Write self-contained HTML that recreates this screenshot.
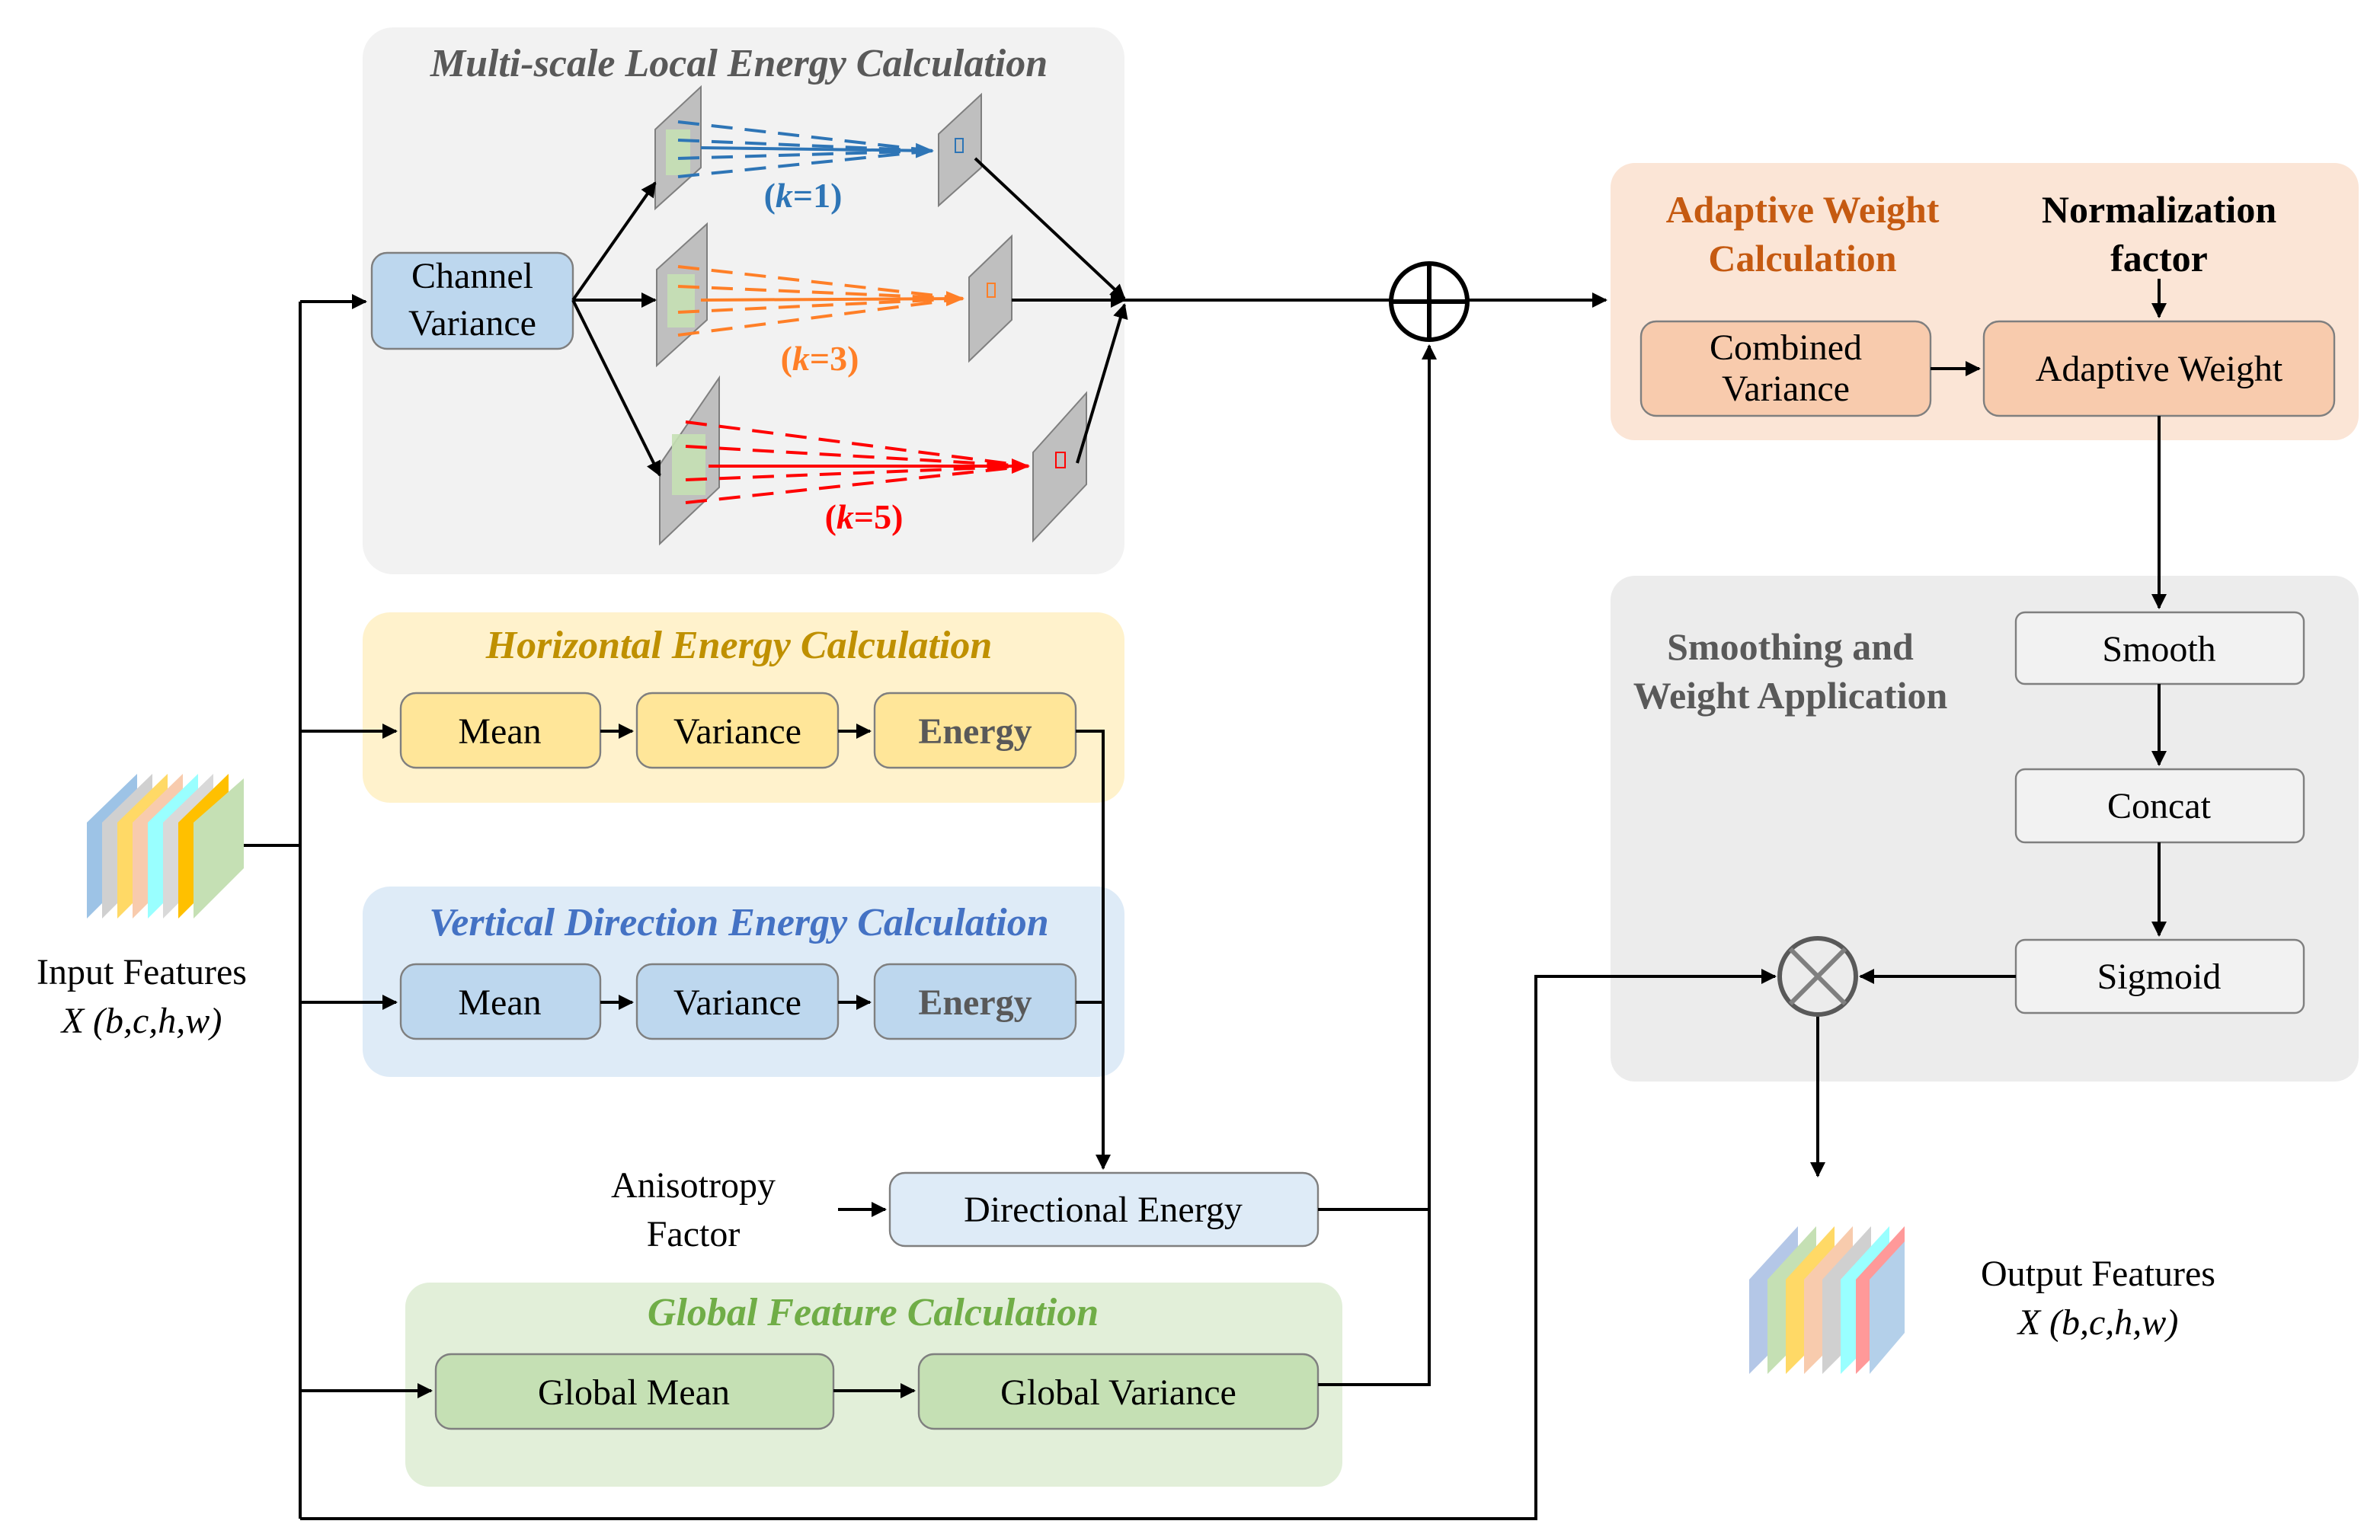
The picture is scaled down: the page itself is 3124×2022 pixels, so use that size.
<!DOCTYPE html>
<html><head><meta charset="utf-8"><style>
html,body{margin:0;padding:0;background:#fff}
svg{display:block}
text{font-family:"Liberation Serif",serif}
</style></head><body>
<svg width="3124" height="2022" viewBox="0 0 1562 1011" xmlns="http://www.w3.org/2000/svg">
<defs>
<marker id="a" markerWidth="10" markerHeight="10" refX="9" refY="5" orient="auto" markerUnits="userSpaceOnUse"><path d="M0,0 L10,5 L0,10 z" fill="#000"/></marker>
<marker id="ab" markerWidth="12" markerHeight="10" refX="11" refY="5" orient="auto" markerUnits="userSpaceOnUse"><path d="M0,0 L12,5 L0,10 z" fill="#2e75b6"/></marker>
<marker id="ao" markerWidth="12" markerHeight="10" refX="11" refY="5" orient="auto" markerUnits="userSpaceOnUse"><path d="M0,0 L12,5 L0,10 z" fill="#ff7f27"/></marker>
<marker id="ar" markerWidth="12" markerHeight="10" refX="11" refY="5" orient="auto" markerUnits="userSpaceOnUse"><path d="M0,0 L12,5 L0,10 z" fill="#ff0000"/></marker>
</defs>

<rect x="238" y="18" width="500" height="359" rx="20" fill="#f2f2f2"/>
<rect x="238" y="402" width="500" height="125" rx="18" fill="#fff2cc"/>
<rect x="238" y="582" width="500" height="125" rx="18" fill="#deebf7"/>
<rect x="266" y="842" width="615" height="134" rx="16" fill="#e2efd9"/>
<rect x="1057" y="107" width="491" height="182" rx="16" fill="#fbe5d6"/>
<rect x="1057" y="378" width="491" height="332" rx="16" fill="#ececec"/>

<g font-style="italic" font-weight="bold" font-size="26" text-anchor="middle">
<text x="485" y="50" fill="#595959">Multi-scale Local Energy Calculation</text>
<text x="485" y="432" fill="#bf9000">Horizontal Energy Calculation</text>
<text x="485" y="614" fill="#4472c4">Vertical Direction Energy Calculation</text>
<text x="573" y="870" fill="#70ad47">Global Feature Calculation</text>
</g>
<g font-weight="bold" font-size="25" text-anchor="middle">
<text x="1183" y="146" fill="#c55a11">Adaptive Weight</text>
<text x="1183" y="178" fill="#c55a11">Calculation</text>
<text x="1417" y="146" fill="#000">Normalization</text>
<text x="1417" y="178" fill="#000">factor</text>
<text x="1175" y="433" fill="#595959">Smoothing and</text>
<text x="1175" y="465" fill="#595959">Weight Application</text>
</g>

<g stroke="#7f7f7f" stroke-width="1.2">
<rect x="244" y="166" width="132" height="63" rx="10" fill="#bdd7ee"/>
<rect x="263" y="455" width="131" height="49" rx="10" fill="#ffe699"/>
<rect x="418" y="455" width="132" height="49" rx="10" fill="#ffe699"/>
<rect x="574" y="455" width="132" height="49" rx="10" fill="#ffe699"/>
<rect x="263" y="633" width="131" height="49" rx="10" fill="#bdd7ee"/>
<rect x="418" y="633" width="132" height="49" rx="10" fill="#bdd7ee"/>
<rect x="574" y="633" width="132" height="49" rx="10" fill="#bdd7ee"/>
<rect x="584" y="770" width="281" height="48" rx="10" fill="#deebf7"/>
<rect x="286" y="889" width="261" height="49" rx="10" fill="#c5e0b4"/>
<rect x="603" y="889" width="262" height="49" rx="10" fill="#c5e0b4"/>
<rect x="1077" y="211" width="190" height="62" rx="10" fill="#f8cbad"/>
<rect x="1302" y="211" width="230" height="62" rx="10" fill="#f8cbad"/>
<rect x="1323" y="402" width="189" height="47" rx="6" fill="#f2f2f2"/>
<rect x="1323" y="505" width="189" height="48" rx="6" fill="#f2f2f2"/>
<rect x="1323" y="617" width="189" height="48" rx="6" fill="#f2f2f2"/>
</g>
<g font-size="24" text-anchor="middle" fill="#000">
<text x="310" y="189">Channel</text><text x="310" y="220">Variance</text>
<text x="328" y="488">Mean</text><text x="484" y="488">Variance</text>
<text x="640" y="488" font-weight="bold" fill="#595959">Energy</text>
<text x="328" y="666">Mean</text><text x="484" y="666">Variance</text>
<text x="640" y="666" font-weight="bold" fill="#595959">Energy</text>
<text x="724" y="802">Directional Energy</text>
<text x="416" y="922">Global Mean</text><text x="734" y="922">Global Variance</text>
<text x="1172" y="236">Combined</text><text x="1172" y="263">Variance</text>
<text x="1417" y="250">Adaptive Weight</text>
<text x="1417" y="434">Smooth</text><text x="1417" y="537">Concat</text><text x="1417" y="649">Sigmoid</text>
<text x="455" y="786">Anisotropy</text><text x="455" y="818">Factor</text>
<text x="93" y="646">Input Features</text>
<text x="93" y="678" font-style="italic">X (b,c,h,w)</text>
<text x="1377" y="844">Output Features</text>
<text x="1377" y="876" font-style="italic">X (b,c,h,w)</text>
</g>

<g fill="#bfbfbf" stroke="#7f7f7f" stroke-width="1">
<path d="M430,85 L460,57 L460,110 L430,137z"/>
<path d="M616,88 L644,62 L644,110 L616,135z"/>
<path d="M431,177 L464,147 L464,210 L431,240z"/>
<path d="M636,182 L664,155 L664,210 L636,237z"/>
<path d="M433,305 L472,248 L472,320 L433,357z"/>
<path d="M678,297 L713,258 L713,318 L678,355z"/>
</g>
<g fill="#c5e0b4" opacity="0.9">
<rect x="437" y="85" width="16" height="30"/><rect x="438" y="180" width="18" height="35"/><rect x="441" y="285" width="22" height="40"/>
</g>
<g stroke="#2e75b6" stroke-width="2" stroke-dasharray="14,8" fill="none">
<line x1="445" y1="80" x2="612" y2="99"/><line x1="445" y1="92" x2="612" y2="99"/><line x1="445" y1="104" x2="612" y2="99"/><line x1="445" y1="116" x2="612" y2="99"/>
<line x1="460" y1="97" x2="612" y2="99" stroke-dasharray="none" marker-end="url(#ab)"/>
</g>
<g stroke="#ff7f27" stroke-width="2" stroke-dasharray="14,8" fill="none">
<line x1="445" y1="175" x2="632" y2="196"/><line x1="445" y1="188" x2="632" y2="196"/><line x1="445" y1="205" x2="632" y2="196"/><line x1="445" y1="220" x2="632" y2="196"/>
<line x1="460" y1="197" x2="632" y2="196" stroke-dasharray="none" marker-end="url(#ao)"/>
</g>
<g stroke="#ff0000" stroke-width="2" stroke-dasharray="14,8" fill="none">
<line x1="450" y1="277" x2="675" y2="306"/><line x1="450" y1="293" x2="675" y2="306"/><line x1="450" y1="315" x2="675" y2="306"/><line x1="450" y1="330" x2="675" y2="306"/>
<line x1="465" y1="306" x2="675" y2="306" stroke-dasharray="none" marker-end="url(#ar)"/>
</g>
<rect x="627" y="91" width="5" height="9" fill="none" stroke="#2e75b6"/>
<rect x="648" y="186" width="5" height="9" fill="none" stroke="#ff7f27"/>
<rect x="693" y="297" width="6" height="10" fill="none" stroke="#ff0000"/>
<g font-weight="bold" font-size="23" text-anchor="middle">
<text x="527" y="136" fill="#2e75b6">(<tspan font-style="italic">k</tspan>=1)</text>
<text x="538" y="243" fill="#ff7f27">(<tspan font-style="italic">k</tspan>=3)</text>
<text x="567" y="347" fill="#ff0000">(<tspan font-style="italic">k</tspan>=5)</text>
</g>

<g>
<path d="M57,540 L90,508 L90,570 L57,603z" fill="#9dc3e6"/>
<path d="M67,540 L100,508 L100,570 L67,603z" fill="#d0d0d0"/>
<path d="M77,540 L110,508 L110,570 L77,603z" fill="#ffd966"/>
<path d="M87,540 L120,508 L120,570 L87,603z" fill="#f8cbad"/>
<path d="M97,540 L130,508 L130,570 L97,603z" fill="#99ffff"/>
<path d="M107,540 L140,508 L140,570 L107,603z" fill="#d9d9d9"/>
<path d="M117,540 L150,508 L150,570 L117,603z" fill="#ffc000"/>
<path d="M127,540 L160,511 L160,570 L127,603z" fill="#c5e0b4"/>
</g>
<g>
<path d="M1148,840 L1180,805 L1180,870 L1148,902z" fill="#b4c7e7"/>
<path d="M1160,840 L1192,805 L1192,870 L1160,902z" fill="#c5e0b4"/>
<path d="M1172,840 L1204,805 L1204,870 L1172,902z" fill="#ffd966"/>
<path d="M1184,840 L1216,805 L1216,870 L1184,902z" fill="#f8cbad"/>
<path d="M1196,840 L1228,805 L1228,870 L1196,902z" fill="#d0d0d0"/>
<path d="M1208,840 L1240,805 L1240,870 L1208,902z" fill="#99ffff"/>
<path d="M1218,840 L1250,805 L1250,870 L1218,902z" fill="#ff9999"/>
<path d="M1227,840 L1250,815 L1250,875 L1227,902z" fill="#b4d0ea"/>
</g>

<g stroke="#000" stroke-width="2" fill="none">
<polyline points="160,555 197,555"/>
<line x1="197" y1="198" x2="197" y2="997"/>
<line x1="197" y1="198" x2="240" y2="198" marker-end="url(#a)"/>
<line x1="197" y1="480" x2="260" y2="480" marker-end="url(#a)"/>
<line x1="197" y1="658" x2="260" y2="658" marker-end="url(#a)"/>
<line x1="197" y1="913" x2="283" y2="913" marker-end="url(#a)"/>
<polyline points="197,997 1008,997 1008,641 1165,641" marker-end="url(#a)"/>
<line x1="376" y1="197" x2="430" y2="120" marker-end="url(#a)"/>
<line x1="376" y1="197" x2="430" y2="197" marker-end="url(#a)"/>
<line x1="376" y1="197" x2="433" y2="312" marker-end="url(#a)"/>
<line x1="640" y1="104" x2="738" y2="196" marker-end="url(#a)"/>
<line x1="664" y1="197" x2="738" y2="197" marker-end="url(#a)"/>
<line x1="707" y1="304" x2="738" y2="200" marker-end="url(#a)"/>
<line x1="738" y1="197" x2="912" y2="197"/>
<line x1="964" y1="197" x2="1054" y2="197" marker-end="url(#a)"/>
<line x1="394" y1="480" x2="415" y2="480" marker-end="url(#a)"/>
<line x1="550" y1="480" x2="571" y2="480" marker-end="url(#a)"/>
<line x1="394" y1="658" x2="415" y2="658" marker-end="url(#a)"/>
<line x1="550" y1="658" x2="571" y2="658" marker-end="url(#a)"/>
<polyline points="706,480 724,480 724,767" marker-end="url(#a)"/>
<line x1="706" y1="658" x2="724" y2="658"/>
<line x1="550" y1="794" x2="581" y2="794" marker-end="url(#a)"/>
<line x1="547" y1="913" x2="600" y2="913" marker-end="url(#a)"/>
<polyline points="865,794 938,794"/>
<polyline points="865,909 938,909 938,227" marker-end="url(#a)"/>
<line x1="1417" y1="183" x2="1417" y2="208" marker-end="url(#a)"/>
<line x1="1267" y1="242" x2="1299" y2="242" marker-end="url(#a)"/>
<line x1="1417" y1="273" x2="1417" y2="399" marker-end="url(#a)"/>
<line x1="1417" y1="449" x2="1417" y2="502" marker-end="url(#a)"/>
<line x1="1417" y1="553" x2="1417" y2="614" marker-end="url(#a)"/>
<line x1="1323" y1="641" x2="1221" y2="641" marker-end="url(#a)"/>
<line x1="1193" y1="666" x2="1193" y2="772" marker-end="url(#a)"/>
</g>
<g stroke="#000" stroke-width="3" fill="none">
<circle cx="938" cy="198" r="25"/>
<line x1="913" y1="198" x2="963" y2="198"/><line x1="938" y1="173" x2="938" y2="223"/>
</g>
<g fill="none">
<circle cx="1193" cy="641" r="25" stroke="#595959" stroke-width="3"/>
<line x1="1175" y1="623" x2="1211" y2="659" stroke="#7f7f7f" stroke-width="3"/>
<line x1="1211" y1="623" x2="1175" y2="659" stroke="#7f7f7f" stroke-width="3"/>
</g>
</svg>
</body></html>
